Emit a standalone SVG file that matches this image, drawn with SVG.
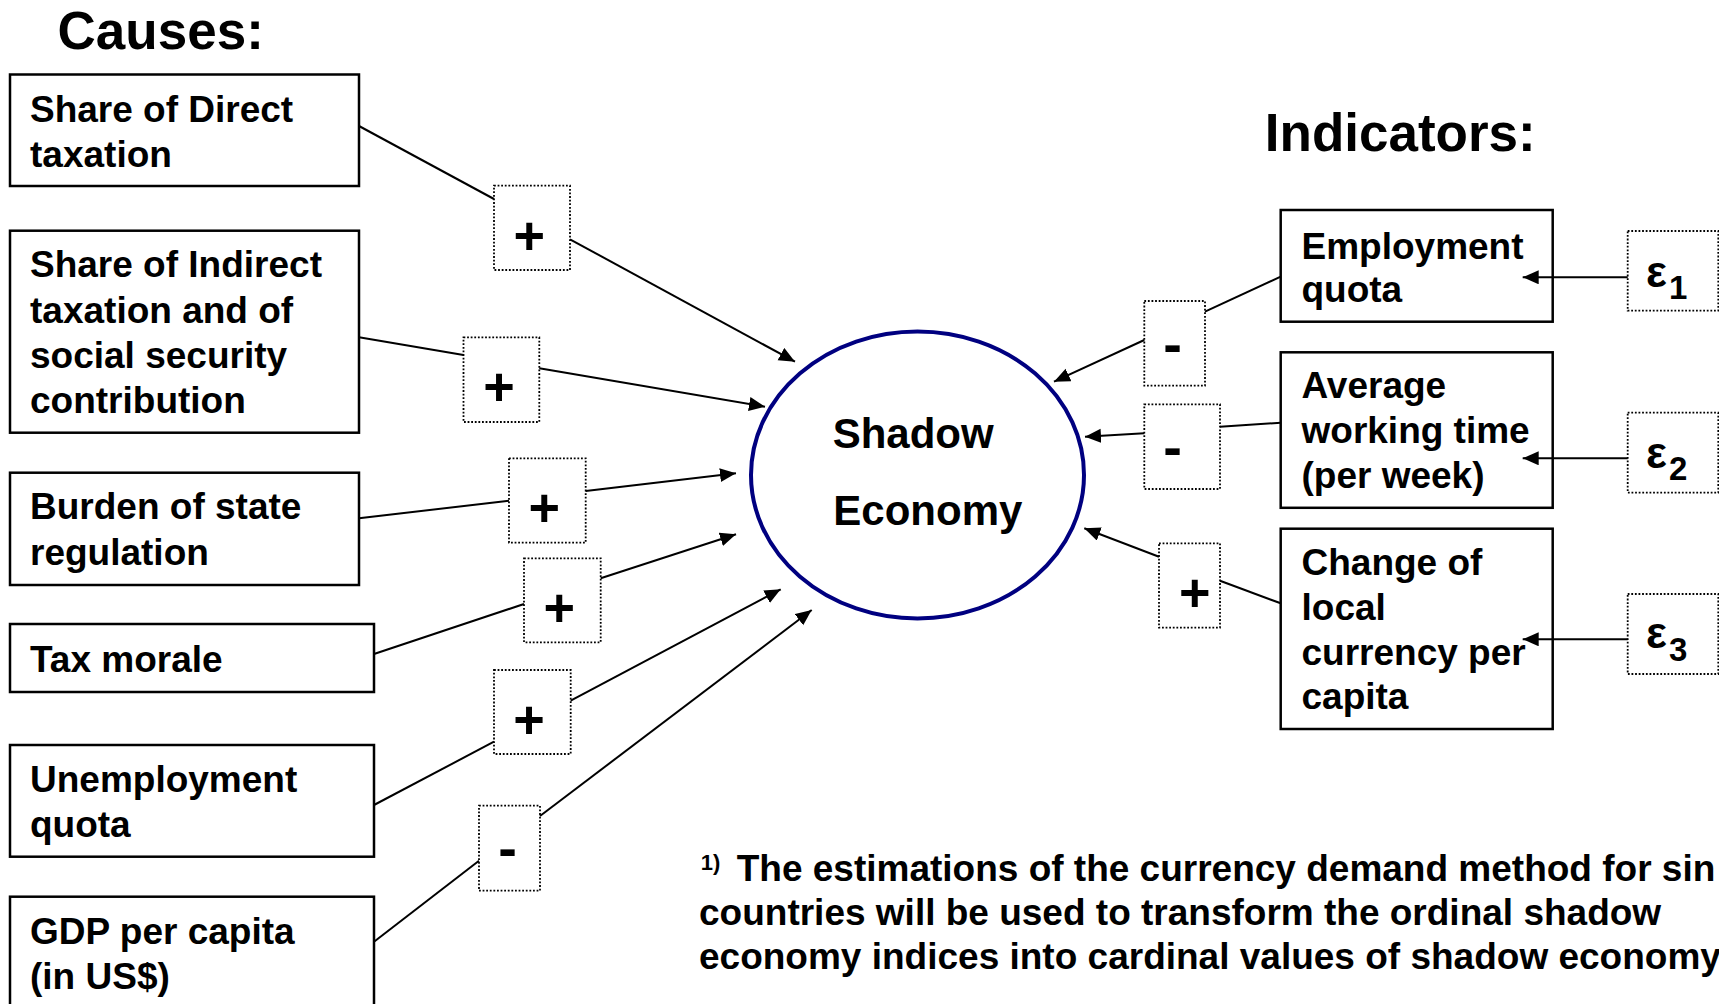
<svg xmlns="http://www.w3.org/2000/svg" width="1719" height="1004" viewBox="0 0 1719 1004">
<style>
  text { font-family: "Liberation Sans", Arial, sans-serif; font-weight: bold; fill: #000; }
  .title { font-size: 53px; }
  .lbl { font-size: 37px; }
  .box { fill: #fff; stroke: #000; stroke-width: 2.5; }
  .dot { fill: #fff; stroke: #000; stroke-width: 1.8; stroke-dasharray: 1.8 1.8; }
  .sign { font-size: 54px; text-anchor: middle; }
  .minus { font-size: 56px; text-anchor: middle; }
  .eps { font-size: 44px; }
  .sub { font-size: 33px; }
  .con line { stroke: #000; stroke-width: 2; fill: none; }
  .arr { marker-end: url(#arrow); }
  .foot { font-size: 37px; }
</style>
<defs>
  <marker id="arrow" markerUnits="userSpaceOnUse" markerWidth="17" markerHeight="15" refX="16" refY="7" orient="auto" viewBox="0 0 17 15">
    <path d="M0,0 L16,7 L0,14 Z" fill="#000"/>
  </marker>
</defs>
<rect width="1719" height="1004" fill="#fff"/>

<text id="causes-title" class="title" x="57.6" y="49.3">Causes:</text>
<text id="indicators-title" class="title" x="1264.8" y="150.7">Indicators:</text>

<g id="cause-direct-tax">
  <rect class="box" x="10" y="74.5" width="349" height="111.5"/>
  <text class="lbl" x="30" y="121.5">Share of Direct</text>
  <text class="lbl" x="30" y="166.5">taxation</text>
</g>
<g id="cause-indirect-tax">
  <rect class="box" x="10" y="230.7" width="349" height="202"/>
  <text class="lbl" x="30" y="277">Share of Indirect</text>
  <text class="lbl" x="30" y="322.5">taxation and of</text>
  <text class="lbl" x="30" y="367.5">social security</text>
  <text class="lbl" x="30" y="412.5">contribution</text>
</g>
<g id="cause-regulation">
  <rect class="box" x="10" y="472.7" width="349" height="112.3"/>
  <text class="lbl" x="30" y="519">Burden of state</text>
  <text class="lbl" x="30" y="564.5">regulation</text>
</g>
<g id="cause-tax-morale">
  <rect class="box" x="10" y="624" width="364" height="68"/>
  <text class="lbl" x="30" y="671.5">Tax morale</text>
</g>
<g id="cause-unemployment">
  <rect class="box" x="10" y="745" width="364" height="111.7"/>
  <text class="lbl" x="30" y="791.5">Unemployment</text>
  <text class="lbl" x="30" y="836.5">quota</text>
</g>
<g id="cause-gdp">
  <rect class="box" x="10" y="896.7" width="364" height="120"/>
  <text class="lbl" x="30" y="944">GDP per capita</text>
  <text class="lbl" x="30" y="989">(in US$)</text>
</g>

<g id="sign-1">
  <rect class="dot" x="494" y="185.7" width="76" height="84.3"/>
  <text class="sign" x="529.3" y="253.6">+</text>
</g>
<g id="sign-2">
  <rect class="dot" x="463.5" y="337.3" width="75.8" height="84.7"/>
  <text class="sign" x="499" y="405.3">+</text>
</g>
<g id="sign-3">
  <rect class="dot" x="509" y="458.3" width="76.7" height="84.4"/>
  <text class="sign" x="544.3" y="526">+</text>
</g>
<g id="sign-4">
  <rect class="dot" x="524" y="558.3" width="76.7" height="84"/>
  <text class="sign" x="559.3" y="626">+</text>
</g>
<g id="sign-5">
  <rect class="dot" x="494" y="670" width="76.7" height="84"/>
  <text class="sign" x="529" y="737.6">+</text>
</g>
<g id="sign-6">
  <rect class="dot" x="479" y="805.7" width="61" height="85"/>
  <text class="minus" x="507.5" y="867.1">-</text>
</g>

<g id="shadow-economy">
  <ellipse cx="917.5" cy="475" rx="166.5" ry="143.5" fill="#fff" stroke="#000080" stroke-width="4"/>
  <text x="832.7" y="448.3" style="font-size:42px">Shadow</text>
  <text x="833.3" y="525" style="font-size:42px">Economy</text>
</g>

<g id="sign-a">
  <rect class="dot" x="1144.3" y="301" width="60.7" height="84.7"/>
  <text class="minus" x="1172.5" y="362.9">-</text>
</g>
<g id="sign-b">
  <rect class="dot" x="1144.3" y="404.3" width="75.7" height="84.7"/>
  <text class="minus" x="1172.5" y="465.8">-</text>
</g>
<g id="sign-c">
  <rect class="dot" x="1159" y="543.3" width="61" height="84.4"/>
  <text class="sign" x="1194.7" y="611">+</text>
</g>

<g id="ind-employment">
  <rect class="box" x="1280.7" y="210" width="272" height="111.7"/>
  <text class="lbl" x="1301.5" y="258.5">Employment</text>
  <text class="lbl" x="1301.5" y="302">quota</text>
</g>
<g id="ind-working-time">
  <rect class="box" x="1280.7" y="352.3" width="272" height="155.5"/>
  <text class="lbl" x="1301.5" y="397.5">Average</text>
  <text class="lbl" x="1301.5" y="442.5">working time</text>
  <text class="lbl" x="1301.5" y="487.5">(per week)</text>
</g>
<g id="ind-currency">
  <rect class="box" x="1280.7" y="528.7" width="272" height="200.3"/>
  <text class="lbl" x="1301.5" y="574.5">Change of</text>
  <text class="lbl" x="1301.5" y="619.5">local</text>
  <text class="lbl" x="1301.5" y="664.5">currency per</text>
  <text class="lbl" x="1301.5" y="709">capita</text>
</g>

<g id="eps-1">
  <rect class="dot" x="1627.7" y="231" width="90.6" height="79.7"/>
  <text class="eps" x="1646" y="286.7">ε</text>
  <text class="sub" x="1669" y="299.3">1</text>
</g>
<g id="eps-2">
  <rect class="dot" x="1627.7" y="412.7" width="90.6" height="80"/>
  <text class="eps" x="1646" y="467.7">ε</text>
  <text class="sub" x="1669" y="480">2</text>
</g>
<g id="eps-3">
  <rect class="dot" x="1627.7" y="594" width="90.6" height="80"/>
  <text class="eps" x="1646" y="648.3">ε</text>
  <text class="sub" x="1669" y="660.7">3</text>
</g>

<g id="footnote">
  <text x="700.7" y="870.4" style="font-size:22px">1)</text>
  <text class="foot" x="736.7" y="880.7">The estimations of the currency demand method for sin</text>
  <text class="foot" x="699" y="925">countries will be used to transform the ordinal shadow</text>
  <text class="foot" x="699" y="969.3">economy indices into cardinal values of shadow economy</text>
</g>

<g id="connectors" class="con">
  <line x1="359" y1="126" x2="494" y2="199"/>
  <line class="arr" x1="570" y1="239.3" x2="795" y2="361.7"/>
  <line x1="359" y1="337.3" x2="463.5" y2="355"/>
  <line class="arr" x1="539.3" y1="368.3" x2="765" y2="406.7"/>
  <line x1="359" y1="518.3" x2="509" y2="500.7"/>
  <line class="arr" x1="585.7" y1="491" x2="736" y2="473.3"/>
  <line x1="374" y1="654" x2="524" y2="604"/>
  <line class="arr" x1="600.7" y1="578.3" x2="736" y2="534.3"/>
  <line x1="374" y1="805" x2="494" y2="741.7"/>
  <line class="arr" x1="570.7" y1="700.7" x2="780.7" y2="589.3"/>
  <line x1="374" y1="941.7" x2="479" y2="860.7"/>
  <line class="arr" x1="540" y1="816" x2="811.7" y2="610"/>
  <line x1="1280.7" y1="276.7" x2="1205" y2="311.7"/>
  <line class="arr" x1="1144.3" y1="340" x2="1054" y2="381.7"/>
  <line x1="1280.7" y1="422.7" x2="1220" y2="426.7"/>
  <line class="arr" x1="1144.3" y1="433.3" x2="1085" y2="436.7"/>
  <line x1="1280.7" y1="603.3" x2="1220" y2="580.7"/>
  <line class="arr" x1="1159" y1="556.7" x2="1084.3" y2="528.3"/>
  <line class="arr" x1="1627.7" y1="277.3" x2="1522.7" y2="277.3"/>
  <line class="arr" x1="1627.7" y1="458.3" x2="1522.7" y2="458.3"/>
  <line class="arr" x1="1627.7" y1="639.3" x2="1522.7" y2="639.3"/>
</g>
</svg>
